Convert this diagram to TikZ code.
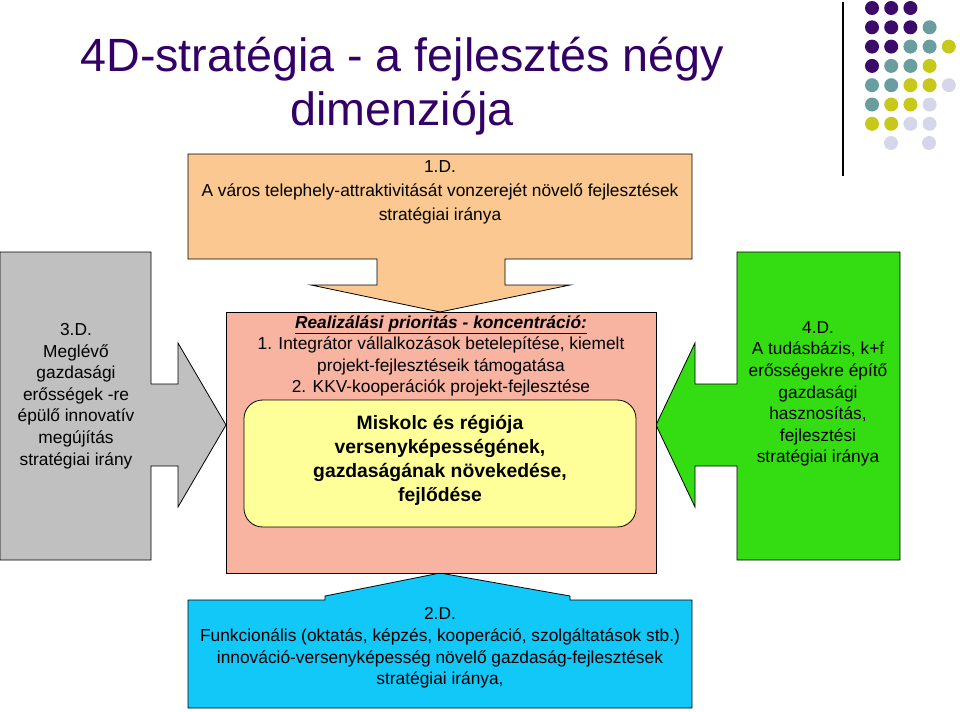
\documentclass[tikz,border=0pt]{standalone}
\usepackage{fontspec}
\setmainfont{Liberation Sans}
\definecolor{cP}{HTML}{3B0A6B}\definecolor{cT}{HTML}{6A9E9E}\definecolor{cY}{HTML}{C8C81A}\definecolor{cL}{HTML}{D6D6EA}
\definecolor{corange}{HTML}{FAC890}\definecolor{csalmon}{HTML}{F8B4A0}\definecolor{cyel}{HTML}{FFFF99}
\definecolor{cgray}{HTML}{C0C0C0}\definecolor{cgreen}{HTML}{33DD11}\definecolor{ccyan}{HTML}{11C8F8}
\definecolor{ctitle}{HTML}{330066}
\tikzset{shp/.style={draw=black,line width=0.6pt},
 txt/.style={align=center,font=\fontsize{13}{16.2}\selectfont}}
\begin{document}
\begin{tikzpicture}[x=0.75pt,y=-0.75pt]
\useasboundingbox (0,0) rectangle (960,711);
% title
\node[font=\fontsize{35}{40}\selectfont,text=ctitle,align=center] (title) at (402,86) {4D-stratégia - a fejlesztés négy\\dimenziója};
\draw[line width=1pt] (843,2) -- (843,176);
% dots
\foreach \row/\cols [count=\r from 0] in {0/{P,P,P},1/{P,P,P,T},2/{P,P,T,T,Y},3/{P,T,T,Y},4/{T,T,Y,Y,L},5/{T,Y,Y,L},6/{Y,Y,L,L}}{
  \foreach \c [count=\i from 0] in \cols { \fill[c\c] (872+19.2*\i,8+19.3*\r) circle (7); }
}
\fill[cL] (891,143) circle (7); \fill[cL] (929,143) circle (7);
% top arrow
\draw[shp,fill=corange] (188,154) -- (692,154) -- (692,259) -- (505,259) -- (505,285) -- (570,285) -- (440,312) -- (311,285) -- (377,285) -- (377,259) -- (188,259) -- cycle;
\node[txt,font=\fontsize{13}{18}\selectfont] (t1) at (440,192) {1.D.\\A város telephely-attraktivitását vonzerejét növelő fejlesztések\\stratégiai iránya};
% left gray
\draw[shp,fill=cgray] (0,252) -- (151,252) -- (151,384) -- (178,384) -- (178,343) -- (226,425) -- (178,507) -- (178,466) -- (151,466) -- (151,560) -- (0,560) -- cycle;
\node[txt] (t3) at (76,396) {3.D.\\Meglévő\\gazdasági\\erősségek -re\\épülő innovatív\\megújítás\\stratégiai irány};
% right green
\draw[shp,fill=cgreen] (737,252) -- (900,252) -- (900,560) -- (737,560) -- (737,466) -- (695,466) -- (695,507) -- (656,425) -- (695,343) -- (695,384) -- (737,384) -- cycle;
\node[txt] (t4) at (818,394) {4.D.\\A tudásbázis, k+f\\erősségekre építő\\gazdasági\\hasznosítás,\\fejlesztési\\stratégiai iránya};
% bottom cyan
\draw[shp,fill=ccyan] (188,600) -- (325,600) -- (325,596) -- (440,573) -- (570,596) -- (570,600) -- (692,600) -- (692,708) -- (188,708) -- cycle;
\node[txt] (t2) at (440,648) {2.D.\\Funkcionális (oktatás, képzés, kooperáció, szolgáltatások stb.)\\innováció-versenyképesség növelő gazdaság-fejlesztések\\stratégiai iránya,};
% center
\draw[shp,fill=csalmon] (226,312) rectangle (656,573);
\node[txt] (tc) at (441,356) {\textbf{\textit{\underline{Realizálási prioritás - koncentráció:}}}\\1. Integrátor vállalkozások betelepítése, kiemelt\\projekt-fejlesztéseik támogatása\\2. KKV-kooperációk projekt-fejlesztése};
\draw[shp,fill=cyel,rounded corners=14] (244,400) rectangle (636,527);
\node[align=center,font=\bfseries\fontsize{14.5}{18}\selectfont] (ty) at (440,460) {Miskolc és régiója\\versenyképességének,\\gazdaságának növekedése,\\fejlődése};
\end{tikzpicture}
\end{document}
